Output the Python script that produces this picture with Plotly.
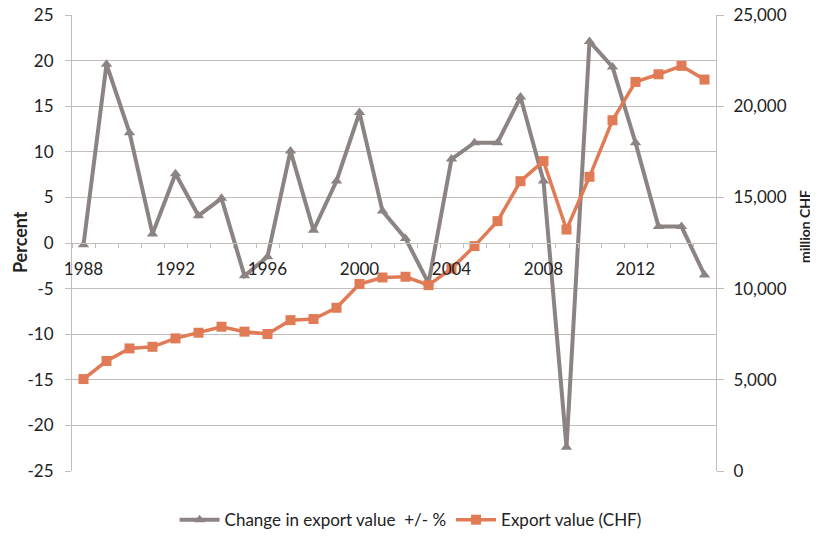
import plotly.graph_objects as go

years = list(range(1988, 2016))
pct_change = [-0.2, 19.6, 12.1, 1.0, 7.6, 3.0, 4.9, -3.6, -1.5, 10.1, 1.4, 6.8,
              14.3, 3.5, 0.5, -4.4, 9.2, 11.0, 11.0, 16.0, 6.8, -22.4, 22.1, 19.3,
              11.0, 1.8, 1.8, -3.5]
export_chf = [5040, 6030, 6720, 6810, 7270, 7580, 7910, 7640, 7510, 8270, 8330, 8950,
              10250, 10610, 10650, 10190, 11100, 12330, 13700, 15890, 16990, 13240,
              16130, 19230, 21330, 21750, 22210, 21460]
tick_years = [1988, 1992, 1996, 2000, 2004, 2008, 2012]
pct_ticks = list(range(-25, 30, 5))

GRAY = "#8b8482"
ORANGE = "#e07b56"
GRID = "#c4bebb"
FONT = "Lato"

fig = go.Figure()
fig.add_trace(go.Scatter(x=years, y=pct_change, name="Change in export value  +/- %",
                         mode="lines+markers", line=dict(color=GRAY, width=4),
                         marker=dict(symbol="triangle-up", size=10, color=GRAY)))
fig.add_trace(go.Scatter(x=years, y=export_chf, name="Export value (CHF)", yaxis="y2",
                         mode="lines+markers", line=dict(color=ORANGE, width=3.5),
                         marker=dict(symbol="square", size=10, color=ORANGE)))

# the page body adds an 8px offset, so the figure is 8px smaller than the window
fig.update_layout(
    width=810, height=528,
    paper_bgcolor="white", plot_bgcolor="white",
    font=dict(family=FONT, size=17, color="#222"),
    margin=dict(l=64, r=102, t=7, b=65),
    xaxis=dict(range=[1987.5, 2015.5], tickvals=tick_years, showgrid=False,
               anchor="free", position=0.5, showline=True, linecolor=GRID, linewidth=1,
               ticks="outside", ticklen=11, tickcolor="rgba(0,0,0,0)",
               minor=dict(tick0=1987.5, dtick=1, ticks="outside", ticklen=4,
                          tickcolor=GRID, showgrid=False),
               zeroline=False, automargin=False),
    yaxis=dict(range=[-25, 25], tickvals=pct_ticks, ticktext=[str(v) for v in pct_ticks],
               showgrid=True, gridcolor=GRID, zeroline=False, automargin=False,
               ticklabeloverflow="allow", ticklabelstandoff=8,
               showline=True, linecolor=GRID, ticks="outside", ticklen=6, tickcolor=GRID),
    yaxis2=dict(range=[0, 25000], dtick=5000, tickformat=",", overlaying="y", side="right",
                showgrid=False, zeroline=False, showline=True, linecolor=GRID, automargin=False,
                ticklabeloverflow="allow", ticklabelstandoff=6,
                ticks="outside", ticklen=7, tickcolor=GRID),
    # container refs keep the legend from pushing the margins
    legend=dict(orientation="h", xref="container", yref="container",
                x=0.497, xanchor="center", y=0.03, yanchor="middle",
                font=dict(size=17), itemwidth=40),
    showlegend=True,
)
fig.add_annotation(text="<b>Percent</b>", xref="paper", yref="paper", x=-0.0807, y=0.502,
                   xanchor="center", yanchor="middle",
                   textangle=-90, showarrow=False, font=dict(size=18))
fig.add_annotation(text="<b>million CHF</b>", xref="paper", yref="paper", x=1.1366, y=0.537,
                   xanchor="center", yanchor="middle",
                   textangle=-90, showarrow=False, font=dict(size=14))

fig.write_html("out.html")
